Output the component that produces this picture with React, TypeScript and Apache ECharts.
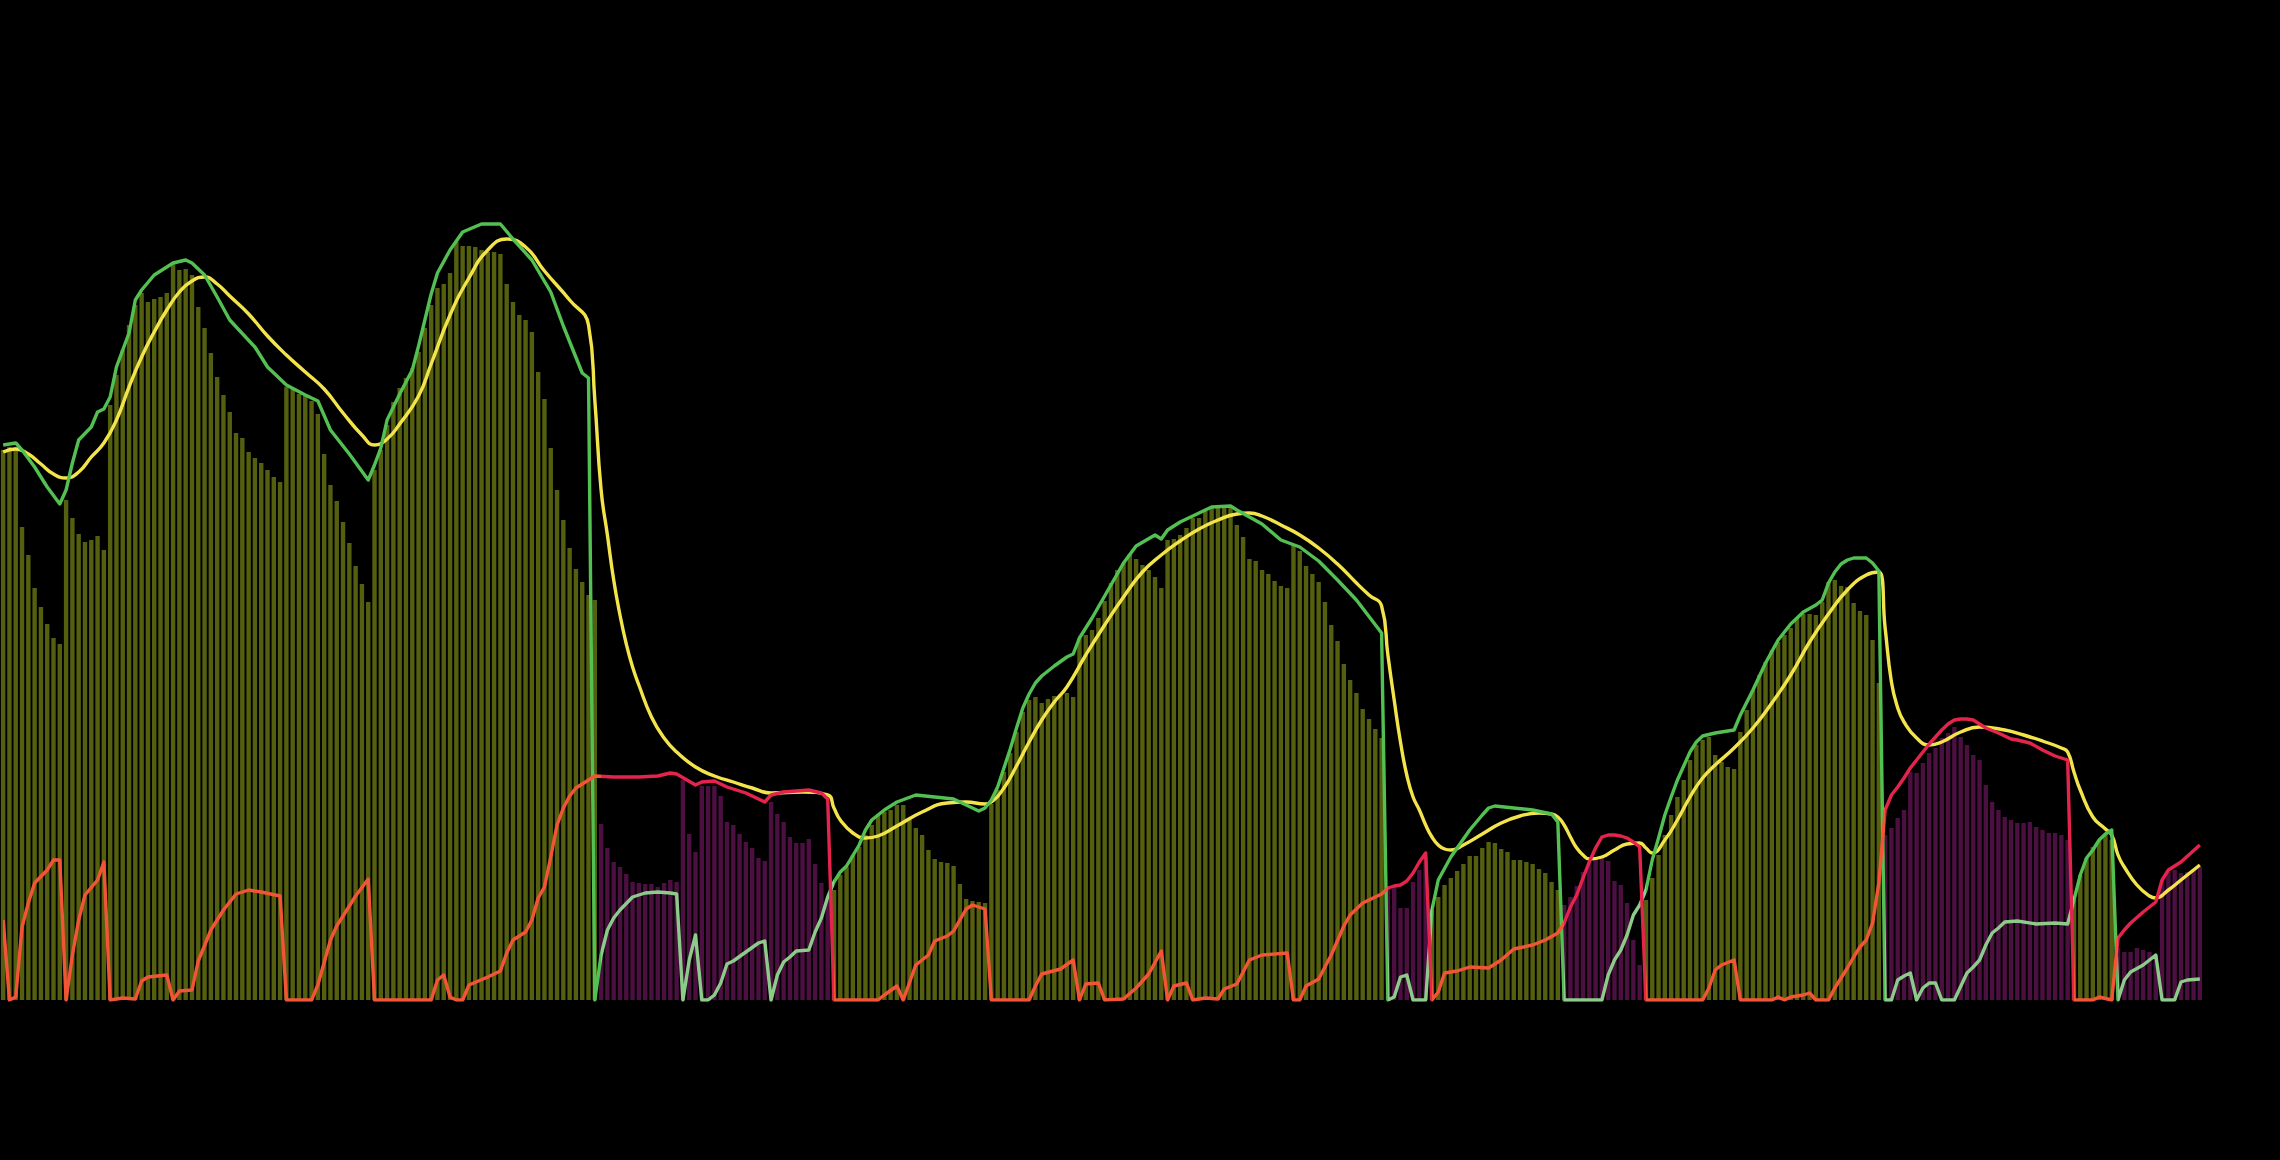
import React, { useEffect, useRef } from "react";
import * as echarts from "echarts";

// Histogram values (one per period)
const histogram: number[] = [
  550, 553, 553, 473, 445, 412, 393, 376, 362, 356,
  500, 482, 466, 458, 460, 464, 450, 595, 625, 650,
  675, 695, 707, 698, 701, 703, 707, 737, 730, 731,
  725, 693, 672, 647, 623, 605, 588, 567, 562, 548,
  542, 537, 530, 523, 518, 613, 611, 606, 604, 599,
  586, 546, 515, 499, 478, 457, 434, 416, 398, 530,
  550, 575, 598, 612, 622, 632, 648, 672, 695, 712,
  716, 727, 758, 754, 754, 753, 750, 748, 748, 746,
  716, 698, 685, 680, 668, 628, 601, 552, 510, 480,
  452, 431, 418, 405, 400,
  176, 152, 138, 133, 126,
  118, 117, 116, 116, 113, 117, 120, 118, 220, 166,
  148, 214, 214, 214, 204, 178, 175, 166, 158, 152,
  142, 139, 198, 186, 178, 163, 157, 157, 161, 136,
  117, 100,
  110, 125, 133, 145, 153, 165, 175, 185,
  188, 190, 195, 195, 181, 172, 165, 150, 141, 138,
  137, 134, 116, 101, 99, 98, 97, 196, 210, 228,
  247, 268, 288, 300, 303, 297, 301, 304, 306, 307,
  303, 362, 365, 370, 382, 399, 417, 430, 437, 446,
  441, 435, 430, 423, 412, 460, 461, 465, 472, 482,
  482, 489, 492, 492, 492, 492, 475, 463, 441, 439,
  430, 426, 419, 414, 412, 455, 449, 434, 426, 418,
  398, 375, 359, 336, 320, 307, 291, 281, 271, 262,
  112, 115, 92, 92, 118, 130, 143,
  90, 103, 115,
  122, 129, 136, 144, 144, 152, 158, 157, 151, 148,
  140, 140, 138, 136, 131, 127, 118, 110,
  95, 103,
  114, 128, 138, 142, 143, 139, 119, 115, 97, 60,
  35,
  100, 122, 145, 165, 185, 203, 220, 240, 255,
  260, 263, 245, 238, 233, 231, 268, 290, 310, 325,
  338, 350, 358, 365, 372, 382, 386, 386, 385, 398,
  418, 420, 414, 413, 397, 389, 385, 360, 317,
  165,
  172, 182, 190, 228, 227, 237, 247, 252, 262, 267,
  273, 263, 255, 245, 240, 215, 198, 190, 183, 180,
  177, 177, 178, 173, 170, 167, 167, 165, 160,
  100, 125, 142, 153, 160, 165, 160,
  52, 48, 48, 52, 50, 48, 45, 120, 128, 130, 127, 128, 131, 133,
];

// Regimes: [first index, last index, kind]
const regimes: [number, number, "bull" | "bear"][] = [
  [0, 94, "bull"],
  [95, 131, "bear"],
  [132, 219, "bull"],
  [220, 226, "bear"],
  [227, 247, "bull"],
  [248, 260, "bear"],
  [261, 298, "bull"],
  [299, 328, "bear"],
  [329, 335, "bull"],
  [336, 349, "bear"],
];

// Bull line vertices [index, value]
const bullLine: [number, number][] = [
  [0, 555], [2, 557], [3, 550], [5, 533], [7, 513], [9, 496], [10, 510], [11, 537], [12, 560], [14, 573],
  [15, 588], [16, 591], [17, 603], [18, 633], [20, 667], [21, 700], [22, 710], [24, 725], [27, 737], [29, 740],
  [30, 737], [32, 725], [34, 703], [36, 680], [40, 653], [42, 633], [45, 615], [48, 605], [50, 599], [52, 570],
  [55, 546], [58, 520], [59, 535], [60, 552], [61, 580], [63, 606], [65, 630], [66, 654], [68, 706], [69, 727],
  [71, 750], [73, 768], [76, 776], [79, 776], [81, 761], [84, 740], [87, 708], [89, 674], [92, 627], [93, 622],
  [94, 0], [95, 45], [96, 70], [97, 82], [98, 90], [100, 103], [102, 107], [104, 108], [106, 107], [107, 106],
  [108, 0], [109, 40], [110, 65], [111, 0], [112, 0], [113, 5], [114, 17], [115, 36], [116, 39], [118, 48],
  [120, 57], [121, 59], [122, 0], [123, 25], [124, 38], [125, 43], [126, 49], [128, 50], [129, 68], [130, 82],
  [131, 103], [132, 118], [133, 128], [134, 134], [136, 155], [137, 170], [138, 180], [140, 190], [142, 198], [145, 205],
  [148, 203], [151, 201], [153, 195], [155, 189], [156, 192], [157, 200], [158, 213], [159, 232], [160, 251], [161, 272],
  [162, 292], [163, 306], [164, 317], [165, 324], [167, 334], [169, 343], [170, 346], [171, 362], [173, 382], [175, 404],
  [178, 437], [180, 454], [183, 465], [184, 461], [185, 470], [187, 478], [190, 487], [192, 493], [195, 494], [196, 490],
  [200, 476], [203, 460], [206, 453], [209, 439], [212, 420], [215, 400], [219, 367], [220, 0], [221, 3], [222, 23],
  [223, 25], [224, 0], [226, 0], [227, 90], [228, 120], [230, 143], [233, 170], [235, 185], [236, 192], [237, 194],
  [240, 192], [243, 190], [246, 186], [247, 178], [248, 0], [254, 0], [255, 25], [256, 40], [257, 50], [258, 65],
  [259, 85], [260, 95], [261, 110], [262, 140], [263, 162], [264, 185], [265, 203], [266, 220], [267, 234], [268, 248],
  [269, 258], [270, 264], [272, 267], [275, 270], [276, 285], [278, 310], [280, 337], [282, 360], [284, 376], [286, 388],
  [288, 395], [289, 400], [290, 417], [291, 428], [292, 436], [293, 440], [294, 442], [296, 442], [297, 437], [298, 429],
  [299, 0], [300, 0], [301, 20], [302, 24], [303, 27], [304, 0], [305, 12], [306, 17], [307, 17], [308, 0],
  [310, 0], [312, 27], [313, 33], [314, 40], [315, 55], [316, 67], [317, 72], [318, 78], [320, 79], [323, 76],
  [326, 77], [328, 76], [329, 100], [330, 125], [331, 142], [332, 150], [333, 160], [334, 166], [335, 170], [336, 0],
  [337, 20], [338, 28], [340, 35], [342, 45], [343, 0], [345, 0], [346, 18], [347, 20], [349, 21],
];

// Bear line vertices [index, value]
const bearLine: [number, number][] = [
  [0, 80], [1, 0], [2, 3], [3, 73], [4, 97], [5, 117], [7, 130], [8, 140], [9, 140], [10, 0],
  [11, 45], [12, 80], [13, 105], [15, 120], [16, 138], [17, 0], [19, 2], [21, 1], [22, 19], [23, 23],
  [26, 25], [27, 0], [28, 9], [30, 10], [31, 39], [33, 70], [35, 90], [37, 106], [39, 110], [41, 108],
  [44, 104], [45, 0], [49, 0], [50, 15], [52, 60], [53, 74], [56, 104], [58, 121], [59, 0], [68, 0],
  [69, 20], [70, 25], [71, 3], [72, 0], [73, 0], [74, 15], [77, 23], [79, 29], [80, 47], [81, 60],
  [83, 68], [84, 80], [85, 102], [86, 113], [87, 143], [88, 175], [89, 192], [90, 204], [91, 212], [92, 216],
  [93, 220], [94, 224], [97, 223], [101, 223], [104, 224], [106, 227], [107, 226], [110, 215], [111, 218], [113, 219],
  [115, 213], [118, 207], [121, 198], [122, 205], [124, 208], [128, 210], [130, 207], [131, 201], [132, 0], [139, 0],
  [140, 5], [142, 14], [143, 0], [145, 35], [147, 45], [148, 59], [150, 64], [151, 69], [153, 91], [154, 95],
  [156, 91], [157, 0], [163, 0], [164, 14], [165, 26], [168, 31], [170, 40], [171, 0], [172, 16], [174, 17],
  [175, 0], [178, 1], [180, 12], [182, 26], [184, 49], [185, 0], [186, 14], [188, 17], [189, 0], [191, 2],
  [193, 1], [194, 11], [196, 16], [198, 40], [200, 45], [204, 47], [205, 0], [206, 0], [207, 14], [209, 21],
  [211, 45], [213, 74], [214, 85], [216, 97], [218, 103], [219, 106], [220, 112], [221, 114], [222, 115], [223, 119],
  [224, 127], [225, 138], [226, 147], [227, 0], [228, 8], [229, 27], [231, 29], [233, 33], [236, 32], [238, 40],
  [240, 51], [243, 55], [245, 60], [247, 67], [248, 77], [249, 93], [250, 105], [251, 122], [252, 138], [253, 152],
  [254, 163], [255, 165], [256, 165], [257, 164], [258, 162], [259, 158], [260, 153], [261, 0], [270, 0], [271, 12],
  [272, 30], [273, 35], [275, 40], [276, 0], [281, 0], [282, 3], [283, 0], [284, 3], [286, 5], [287, 7],
  [288, 0], [290, 0], [291, 12], [292, 22], [293, 32], [294, 43], [295, 53], [296, 60], [297, 77], [298, 117],
  [299, 190], [300, 205], [301, 213], [302, 222], [303, 232], [304, 240], [305, 248], [306, 256], [307, 263], [308, 270],
  [309, 276], [310, 280], [311, 281], [312, 281], [313, 280], [314, 276], [315, 272], [317, 267], [319, 261], [320, 260],
  [322, 257], [324, 250], [326, 244], [328, 240], [329, 0], [332, 0], [333, 3], [335, 0], [336, 62], [337, 70],
  [338, 77], [340, 88], [342, 98], [343, 120], [344, 130], [346, 138], [349, 155],
];

// Signal (smooth) line vertices [index, value]
const signalLine: [number, number][] = [
  [0, 548], [2, 551], [4, 546], [6, 536], [8, 526], [10, 522], [12, 528], [14, 543], [16, 557], [18, 580],
  [20, 613], [22, 643], [24, 668], [26, 690], [28, 708], [30, 719], [32, 723], [34, 716], [36, 704], [39, 686],
  [42, 664], [45, 645], [48, 628], [51, 611], [54, 587], [57, 565], [59, 555], [61, 561], [63, 576], [66, 604],
  [68, 636], [71, 685], [74, 722], [77, 750], [80, 761], [83, 753], [86, 729], [90, 700], [93, 675], [94, 600],
  [95, 510], [96, 465], [97, 420], [98, 385], [99, 356], [100, 333], [101, 315], [103, 283], [105, 262], [107, 248],
  [110, 233], [113, 224], [116, 218], [119, 212], [122, 207], [127, 208], [131, 205], [132, 192], [133, 180], [135, 167],
  [137, 162], [139, 164], [142, 174], [146, 188], [150, 197], [153, 198], [156, 196], [157, 198], [159, 212], [161, 234],
  [163, 258], [165, 280], [167, 298], [169, 313], [172, 345], [175, 375], [178, 403], [181, 428], [184, 445], [187, 459],
  [190, 471], [193, 480], [196, 486], [198, 487], [200, 484], [203, 475], [206, 465], [209, 452], [212, 436], [215, 417],
  [217, 405], [219, 394], [220, 345], [221, 300], [222, 258], [223, 225], [224, 203], [225, 190], [226, 175], [227, 163],
  [228, 155], [229, 151], [230, 150], [232, 155], [235, 166], [238, 177], [241, 184], [244, 187], [246, 186], [247, 183],
  [248, 175], [249, 163], [250, 152], [251, 145], [252, 141], [254, 143], [256, 150], [258, 156], [260, 157], [261, 152],
  [262, 147], [264, 160], [266, 180], [268, 203], [270, 222], [272, 235], [275, 252], [278, 272], [281, 297], [284, 325],
  [287, 358], [290, 386], [293, 410], [296, 425], [298, 428], [299, 372], [300, 318], [301, 292], [302, 278], [304, 262],
  [306, 255], [308, 258], [311, 268], [314, 273], [318, 270], [321, 265], [324, 259], [327, 252], [328, 248], [329, 228],
  [330, 210], [332, 183], [334, 171], [335, 165], [336, 145], [337, 133], [339, 115], [341, 104], [342, 102], [344, 110],
  [346, 120], [349, 135],
];

const OLIVE = "#555f10";
const PURPLE = "#4b1040";
const GREEN = "#52c052";
const PALE_GREEN = "#8ccb89";
const CRIMSON = "#e4244c";
const ORANGE = "#f25536";
const YELLOW = "#f4e44c";

function regimeAt(i: number): "bull" | "bear" {
  for (const [s, e, k] of regimes) if (i >= s && i <= e) return k;
  return "bull";
}

export default function App() {
  const ref = useRef<HTMLDivElement>(null);
  useEffect(() => {
    document.body.style.margin = "0";
    document.body.style.background = "#000";
    const chart = echarts.init(ref.current!, null, { renderer: "svg" });
    const categories = histogram.map((_, i) => String(i));
    chart.setOption({
      animation: false,
      backgroundColor: "#000000",
      grid: { left: 0, right: 77, top: 0, bottom: 160, containLabel: false },
      xAxis: { type: "category", data: categories, show: false, boundaryGap: true },
      yAxis: { type: "value", min: 0, max: 1000, show: false },
      visualMap: [
        {
          type: "piecewise",
          show: false,
          dimension: 0,
          seriesIndex: 2,
          pieces: regimes.map(([s, e, k]) => ({ gte: s - 0.5, lt: e + 0.5, color: k === "bull" ? GREEN : PALE_GREEN })),
        },
        {
          type: "piecewise",
          show: false,
          dimension: 0,
          seriesIndex: 3,
          pieces: regimes.map(([s, e, k]) => ({ gte: s - 0.5, lt: e + 0.5, color: k === "bear" ? CRIMSON : ORANGE })),
        },
      ],
      series: [
        {
          type: "bar",
          data: histogram,
          barWidth: 4.4,
          itemStyle: { color: (p: any) => (regimeAt(p.dataIndex) === "bull" ? OLIVE : PURPLE) },
          emphasis: { disabled: true },
        },
        {
          type: "line",
          data: signalLine,
          smooth: 0.5,
          showSymbol: false,
          lineStyle: { color: YELLOW, width: 3.4, join: "round" },
          emphasis: { disabled: true },
        },
        {
          type: "line",
          data: bullLine,
          showSymbol: false,
          lineStyle: { width: 3.4, join: "round" },
          emphasis: { disabled: true },
        },
        {
          type: "line",
          data: bearLine,
          showSymbol: false,
          lineStyle: { width: 3.4, join: "round" },
          emphasis: { disabled: true },
        },
      ],
    });
    return () => chart.dispose();
  }, []);
  return <div ref={ref} style={{ width: 2280, height: 1160, background: "#000" }} />;
}
